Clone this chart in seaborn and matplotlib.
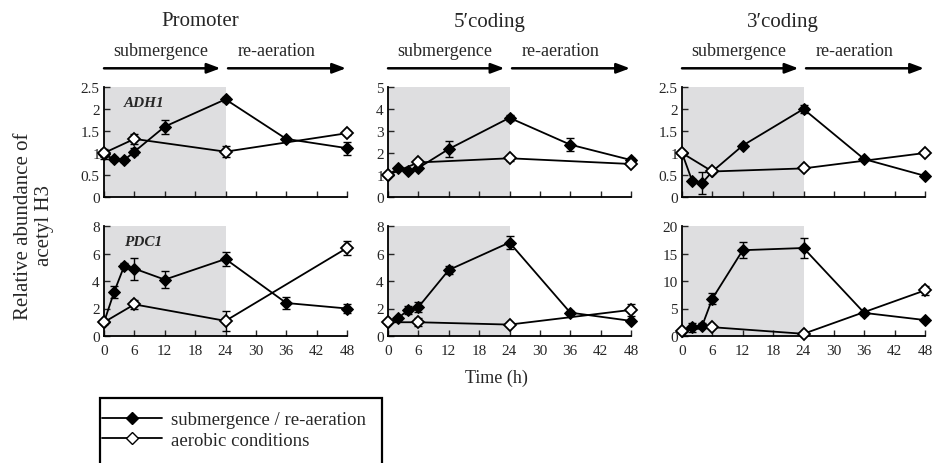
import numpy as np
import pandas as pd
import seaborn as sns
import matplotlib
matplotlib.use("Agg")
import matplotlib.pyplot as plt
from matplotlib.lines import Line2D
from matplotlib.patches import Rectangle
from matplotlib.ticker import FuncFormatter

# time points (h)
t_sub = [0, 2, 4, 6, 12, 24, 36, 48]
t_aer = [0, 6, 24, 48]

# submergence / re-aeration series  (value, error)
prom_adh1 = [0.97, 0.86, 0.84, 1.03, 1.6, 2.22, 1.32, 1.11]
prom_adh1_err = [0.1, 0.05, 0.05, 0.08, 0.16, 0.06, 0.04, 0.15]
prom_pdc1 = [1.0, 3.2, 5.1, 4.9, 4.1, 5.6, 2.4, 2.0]
prom_pdc1_err = [0.1, 0.45, 0.2, 0.8, 0.6, 0.5, 0.45, 0.3]
c5_adh1 = [1.0, 1.3, 1.18, 1.32, 2.18, 3.6, 2.38, 1.68]
c5_adh1_err = [0.05, 0.05, 0.05, 0.08, 0.35, 0.15, 0.3, 0.1]
c5_pdc1 = [1.0, 1.3, 1.9, 2.1, 4.8, 6.8, 1.7, 1.1]
c5_pdc1_err = [0.05, 0.1, 0.3, 0.35, 0.3, 0.45, 0.1, 0.1]
c3_adh1 = [1.0, 0.37, 0.32, 0.58, 1.17, 2.0, 0.86, 0.48]
c3_adh1_err = [0.02, 0.03, 0.25, 0.03, 0.03, 0.1, 0.02, 0.02]
c3_pdc1 = [1.0, 1.6, 1.9, 6.8, 15.6, 16.0, 4.2, 2.9]
c3_pdc1_err = [0.2, 0.8, 0.5, 1.0, 1.5, 1.9, 0.3, 0.2]

# aerobic conditions series
prom_adh1_a = [1.0, 1.32, 1.03, 1.45]
prom_adh1_a_err = [0.1, 0.12, 0.12, 0.04]
prom_pdc1_a = [1.0, 2.3, 1.1, 6.4]
prom_pdc1_a_err = [0.1, 0.3, 0.7, 0.5]
c5_adh1_a = [1.0, 1.57, 1.76, 1.5]
c5_adh1_a_err = [0.05, 0.08, 0.12, 0.05]
c5_pdc1_a = [1.0, 1.0, 0.83, 1.9]
c5_pdc1_a_err = [0.05, 0.3, 0.05, 0.45]
c3_adh1_a = [1.0, 0.58, 0.65, 1.0]
c3_adh1_a_err = [0.02, 0.02, 0.02, 0.02]
c3_pdc1_a = [1.0, 1.6, 0.4, 8.3]
c3_pdc1_a_err = [0.1, 0.1, 0.1, 0.8]

titles = ["Promoter", "5\u2032coding", "3\u2032coding"]
genes = ["ADH1", "PDC1"]
ylims = [[2.5, 5, 2.5], [8, 8, 20]]
ysteps = [[0.5, 1, 0.5], [2, 2, 5]]

sub_data = [[(prom_adh1, prom_adh1_err), (c5_adh1, c5_adh1_err), (c3_adh1, c3_adh1_err)],
            [(prom_pdc1, prom_pdc1_err), (c5_pdc1, c5_pdc1_err), (c3_pdc1, c3_pdc1_err)]]
aer_data = [[(prom_adh1_a, prom_adh1_a_err), (c5_adh1_a, c5_adh1_a_err), (c3_adh1_a, c3_adh1_a_err)],
            [(prom_pdc1_a, prom_pdc1_a_err), (c5_pdc1_a, c5_pdc1_a_err), (c3_pdc1_a, c3_pdc1_a_err)]]

sns.set_style("ticks")
serif = ["Liberation Serif", "DejaVu Serif"]
plt.rcParams["font.family"] = serif
plt.rcParams["xtick.direction"] = "in"
plt.rcParams["ytick.direction"] = "in"

fig = plt.figure(figsize=(9.33, 4.64), dpi=100)
lefts = [104 / 933, 388 / 933, 682 / 933]
bottoms = [1 - 198 / 464, 1 - 337 / 464]
w = 243 / 933
h = 110 / 464

fs = 11
for r in range(2):
    for c in range(3):
        ax = fig.add_axes([lefts[c], bottoms[r], w, h])
        ax.axvspan(0, 24, color="#dedee0", zorder=0, lw=0)
        y, e = sub_data[r][c]
        ya, ea = aer_data[r][c]
        ax.errorbar(t_sub, y, yerr=e, fmt="none", ecolor="black", elinewidth=1.0,
                    capsize=3, capthick=1.0, zorder=3, clip_on=False)
        ax.errorbar(t_aer, ya, yerr=ea, fmt="none", ecolor="black", elinewidth=1.0,
                    capsize=3, capthick=1.0, zorder=3, clip_on=False)
        df_s = pd.DataFrame({"t": t_sub, "v": y})
        df_a = pd.DataFrame({"t": t_aer, "v": ya})
        sns.lineplot(data=df_s, x="t", y="v", ax=ax, color="black", lw=1.3,
                     marker="D", markersize=6.5, markerfacecolor="black",
                     markeredgecolor="black", zorder=4, clip_on=False)
        sns.lineplot(data=df_a, x="t", y="v", ax=ax, color="black", lw=1.3,
                     marker="D", markersize=6.5, markerfacecolor="white",
                     markeredgecolor="black", markeredgewidth=1.3, zorder=5, clip_on=False)
        ax.set_xlim(0, 48)
        ax.set_ylim(0, ylims[r][c])
        ax.set_xticks(range(0, 49, 6))
        ax.set_yticks(np.arange(0, ylims[r][c] + 0.01, ysteps[r][c]))
        ax.yaxis.set_major_formatter(FuncFormatter(lambda v, p: "%g" % v))
        ax.set_xlabel("")
        ax.set_ylabel("")
        ax.tick_params(labelsize=fs, length=4, width=1, pad=3)
        ax.tick_params(axis="x", pad=6)
        if r == 0:
            ax.set_xticklabels([])
        for s in ["top", "right"]:
            ax.spines[s].set_visible(False)
        for s in ["left", "bottom"]:
            ax.spines[s].set_linewidth(1.3)
            ax.spines[s].set_color("black")
        if c == 0:
            ax.text(4, ylims[r][c] * 0.86, genes[r], fontsize=11, fontweight="bold",
                    fontstyle="italic", va="center")
        if r == 0:
            ax.text(20 if c else 19, 1.6, titles[c], transform=ax.get_xaxis_transform(),
                    ha="center", va="center", fontsize=15)
            ax.text(11.3, 1.33, "submergence", transform=ax.get_xaxis_transform(),
                    ha="center", va="center", fontsize=13)
            ax.text(34, 1.33, "re-aeration", transform=ax.get_xaxis_transform(),
                    ha="center", va="center", fontsize=13)
            for x0, x1 in [(0, 23), (24.5, 47.8)]:
                ax.annotate("", xy=(x1, 1.17), xytext=(x0, 1.17),
                            xycoords=ax.get_xaxis_transform(),
                            textcoords=ax.get_xaxis_transform(),
                            arrowprops=dict(arrowstyle="-|>,head_length=0.8,head_width=0.3",
                                            color="black", lw=1.8, shrinkA=0, shrinkB=0),
                            annotation_clip=False)

fig.text(496 / 933, 1 - 378 / 464, "Time (h)", ha="center", va="center", fontsize=13)
fig.text(34 / 933, 1 - 226 / 464, "Relative abundance of\nacetyl H3", ha="center",
         va="center", rotation=90, fontsize=15, linespacing=1.2)

# legend box (runs off the bottom edge as in the original)
fig.patches.append(Rectangle((100 / 933, -0.05), 282 / 933, 1 - 399 / 464 + 0.05,
                             transform=fig.transFigure, fill=False, ec="black", lw=1.6))
handles = [Line2D([], [], color="black", lw=1.3, marker="D", markersize=6,
                  markerfacecolor="black", markeredgecolor="black"),
           Line2D([], [], color="black", lw=1.3, marker="D", markersize=6,
                  markerfacecolor="white", markeredgecolor="black")]
leg = fig.legend(handles, ["submergence / re-aeration", "aerobic conditions"],
                 loc="upper left", bbox_to_anchor=(102 / 933, 1 - 412 / 464),
                 frameon=False, fontsize=13.5, handlelength=3.2, borderpad=0,
                 labelspacing=0.2, handletextpad=0.5, borderaxespad=0)

fig.savefig("out.png", dpi=100)
